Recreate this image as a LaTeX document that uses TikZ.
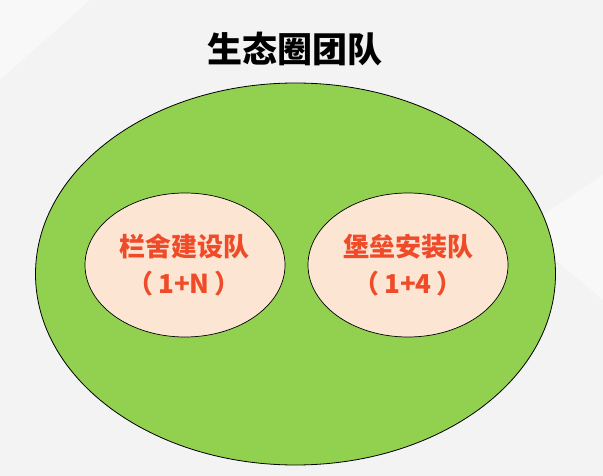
\documentclass[tikz,border=0pt]{standalone}
\usepackage{fontspec}
\usetikzlibrary{shapes.geometric}
\newfontfamily\cjk{Noto Sans CJK SC}
\definecolor{bggray}{HTML}{F3F3F4}
\definecolor{bglight}{HTML}{F8F8F8}
\definecolor{ecogreen}{HTML}{92D050}
\definecolor{peach}{HTML}{FDE5D4}
\definecolor{teamred}{HTML}{F04B28}
\begin{document}
\begin{tikzpicture}[x=1pt,y=-1pt,
  outer/.style={ellipse, draw=black, line width=0.8pt, fill=ecogreen, minimum width=520pt, minimum height=382pt, inner sep=0pt},
  inner/.style={ellipse, draw=black, line width=0.7pt, fill=peach, minimum width=200pt, minimum height=144pt, inner sep=0pt},
  teamtext/.style={text=teamred, font=\cjk\bfseries\fontsize{26}{37}\selectfont, align=center},
  titletext/.style={text=black, font=\cjk\bfseries\fontsize{35}{40}\selectfont}]
\useasboundingbox (0,0) rectangle (603,476);
\fill[bggray] (0,0) rectangle (603,476);
\fill[bglight] (0,0) -- (90,0) -- (0,80) -- cycle;
\fill[bglight] (520,230) -- (603,175) -- (603,300) -- cycle;
\node[titletext] (title) at (295,49) {生态圈团队};
\node[outer] (eco) at (295.5,274) {};
\node[inner] (left) at (185,265) {};
\node[inner] (right) at (408,265) {};
\node[teamtext] (lefttext) at (184,265) {栏舍建设队\\（\hspace{5pt}1+N\hspace{5pt}）};
\node[teamtext] (righttext) at (408,265) {堡垒安装队\\（\hspace{5pt}1+4\hspace{5pt}）};
\end{tikzpicture}
\end{document}
